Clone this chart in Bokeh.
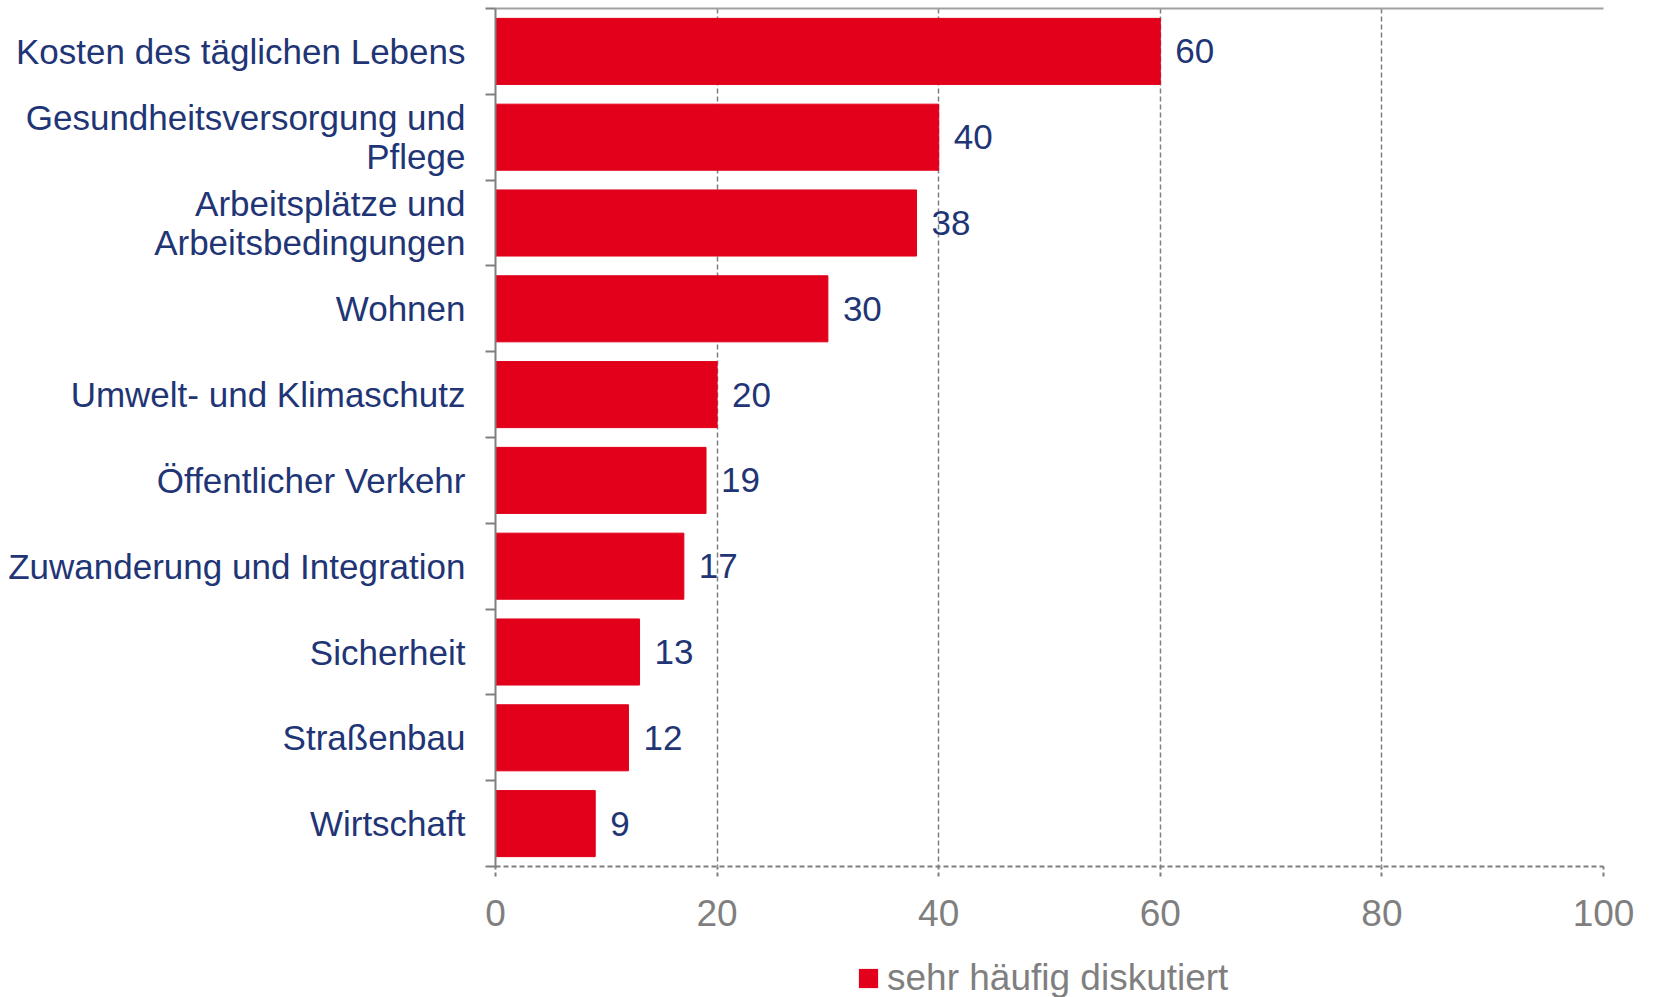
from bokeh.plotting import figure
from bokeh.models import (ColumnDataSource, Range1d, LinearAxis, FactorRange,
                          FixedTicker, Legend, LegendItem)
from bokeh.layouts import column
from bokeh.core.properties import value
from bokeh.embed import file_html
from bokeh.resources import INLINE

categories = [
    "Kosten des täglichen Lebens",
    "Gesundheitsversorgung und\nPflege",
    "Arbeitsplätze und\nArbeitsbedingungen",
    "Wohnen",
    "Umwelt- und Klimaschutz",
    "Öffentlicher Verkehr",
    "Zuwanderung und Integration",
    "Sicherheit",
    "Straßenbau",
    "Wirtschaft",
]
values = [60, 40, 38, 30, 20, 19, 17, 13, 12, 9]
x_ticks = [0, 20, 40, 60, 80, 100]
legend_label = "sehr häufig diskutiert"

RED = "#E2001A"
NAVY = "#1F3575"
GRAY = "#7F7F7F"
FONT = "Liberation Sans"

n = len(categories)
pos = [i + 0.5 for i in range(n)]          # category slot centres (top to bottom)
bounds = [float(i) for i in range(n + 1)]  # slot boundaries
src = ColumnDataSource(dict(y=pos, cat=categories, val=values, lab=[str(v) for v in values]))

H1 = 945
p = figure(width=1654, height=H1, output_backend="svg", toolbar_location=None,
           y_range=Range1d(n, 0), x_range=Range1d(0, 100),
           y_axis_location=None, x_axis_location=None,
           min_border_left=495, min_border_right=51, min_border_top=8,
           min_border_bottom=H1 - 866)
p.outline_line_color = None
p.background_fill_color = "white"
p.border_fill_color = "white"

# x axis (below)
xa = LinearAxis(ticker=FixedTicker(ticks=x_ticks))
xa.axis_line_color = GRAY
xa.axis_line_width = 2
xa.axis_line_dash = "5 3"
xa.major_tick_line_color = GRAY
xa.major_tick_line_width = 2
xa.major_tick_line_dash = "4 3"
xa.major_tick_out = 10
xa.major_tick_in = 0
xa.minor_tick_line_color = None
xa.major_label_text_font = FONT
xa.major_label_text_font_size = "37px"
xa.major_label_text_color = GRAY
xa.major_label_standoff = 23
p.add_layout(xa, "below")

# top border line
ta = LinearAxis(ticker=FixedTicker(ticks=[]))
ta.axis_line_color = "#A0A0A0"
ta.axis_line_width = 2
ta.major_tick_line_color = None
ta.minor_tick_line_color = None
ta.major_label_text_font_size = "0px"
ta.major_label_standoff = 0
p.add_layout(ta, "above")

# left axis: labels at slot centres, ticks at slot boundaries
ya = LinearAxis(ticker=FixedTicker(ticks=pos, minor_ticks=bounds))
ya.major_label_overrides = {y: c for y, c in zip(pos, categories)}
ya.axis_line_color = GRAY
ya.axis_line_width = 2
ya.major_tick_line_color = None
ya.major_tick_out = 0
ya.major_tick_in = 0
ya.minor_tick_line_color = GRAY
ya.minor_tick_line_width = 2
ya.minor_tick_out = 10
ya.minor_tick_in = 0
ya.major_label_text_font = FONT
ya.major_label_text_font_size = "35px"
ya.major_label_text_line_height = 1.0
ya.major_label_text_color = NAVY
ya.major_label_standoff = 20
p.add_layout(ya, "left")

p.xgrid.ticker = FixedTicker(ticks=x_ticks)
p.xgrid.grid_line_color = GRAY
p.xgrid.grid_line_width = 1.5
p.xgrid.grid_line_dash = "5 3"
p.ygrid.grid_line_color = None

bars = p.hbar(y="y", left=0, right="val", height=0.77, source=src,
              fill_color=RED, line_color=RED)

p.text(x="val", y="y", text="lab", source=src, x_offset=15,
       text_align="left", text_baseline="middle",
       text_font=value(FONT), text_font_size="35px", text_color=NAVY)

# legend strip below the chart (its frame is aligned with the chart's frame)
q = figure(width=1654, height=997 - H1, output_backend="svg", toolbar_location=None,
           x_range=Range1d(0, 100), y_range=FactorRange(factors=[legend_label]),
           x_axis_location=None, y_axis_location=None,
           min_border_left=0, min_border_right=0, min_border_top=0, min_border_bottom=0)
q.outline_line_color = None
q.grid.grid_line_color = None
q.background_fill_color = "white"
q.border_fill_color = "white"
leg_src = ColumnDataSource(dict(cat=[legend_label], val=[0]))
swatch = q.hbar(y="cat", left=0, right="val", height=0.5, source=leg_src,
                fill_color=RED, line_color=None)

legend = Legend(items=[LegendItem(label=legend_label, renderers=[swatch])],
                location=(361, -2), orientation="horizontal",
                border_line_color=None, background_fill_alpha=0,
                padding=0, margin=0, spacing=0,
                glyph_width=24, glyph_height=24, label_standoff=7,
                label_text_font=FONT, label_text_font_size="37px",
                label_text_color=GRAY, label_text_baseline="middle")
q.add_layout(legend, "center")

open("out.html", "w").write(file_html(column(p, q), INLINE))
